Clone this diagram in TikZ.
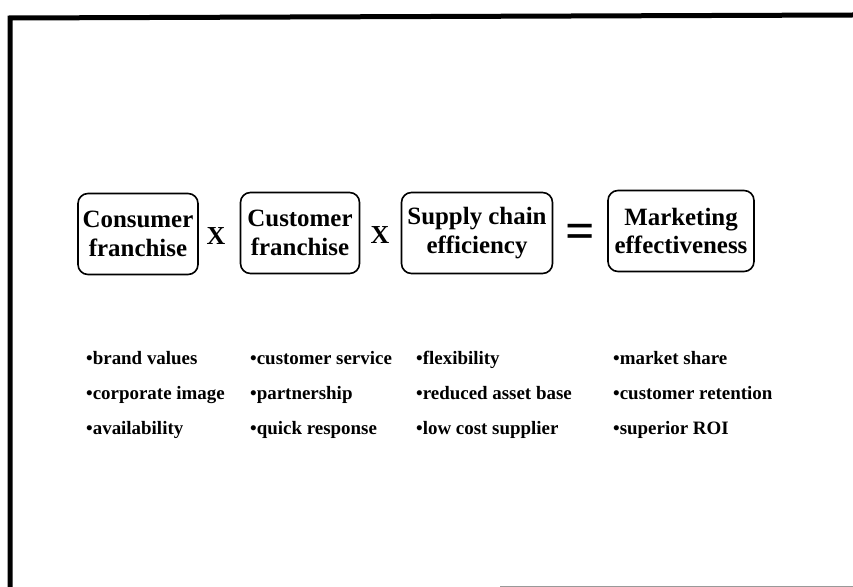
\documentclass[tikz,border=0pt]{standalone}
\usepackage{fontspec}
\setmainfont{Liberation Serif}
\begin{document}
\begin{tikzpicture}[x=1bp,y=-1bp,
    factor/.style={draw,line width=1.6bp,rounded corners=10bp,inner sep=0pt,
      align=center,font=\fontsize{25}{29}\selectfont\bfseries},
    sign/.style={font=\fontsize{26}{28}\selectfont\bfseries},
    item/.style={anchor=base west,inner sep=0pt,font=\fontsize{19}{21}\selectfont\bfseries}]
  % Parameters
  \def\H{81}   % box height
  \def\rowA{364} % baseline of first bullet row
  \def\dy{35}  % bullet row spacing

  \useasboundingbox (0,0) rectangle (853,587);

  % Frame
  \draw[line width=5bp] (10,587) -- (10,18) -- (853,15);
  \draw[black!40,line width=1bp] (500,586) -- (853,586);

  % Factor boxes
  \node[factor,minimum width=120bp,minimum height=\H bp] (consumer)  at (138,234) {Consumer\\franchise};
  \node[factor,minimum width=119bp,minimum height=\H bp] (customer)  at (300,233) {Customer\\franchise};
  \node[factor,minimum width=151bp,minimum height=\H bp] (supply)    at (477,233) {Supply chain\\efficiency};
  \node[factor,minimum width=146bp,minimum height=\H bp] (marketing) at (681,231) {Marketing\\effectiveness};

  % Operators between the boxes
  \node[sign] (times1) at (216,236) {X};
  \node[sign] (times2) at (380,235) {X};
  \node[font=\fontsize{52}{52}\selectfont\bfseries] (equals) at (580,236) {=};

  % Bullet lists under each box
  \foreach \x/\a/\b/\c [count=\i] in {
      86/brand values/corporate image/availability,
      250/customer service/partnership/quick response,
      416/flexibility/reduced asset base/low cost supplier,
      613/market share/customer retention/superior ROI}{
    \node[item] (list\i a) at (\x,\rowA) {•\a};
    \node[item] (list\i b) at (\x,\rowA+\dy) {•\b};
    \node[item] (list\i c) at (\x,\rowA+2*\dy) {•\c};
  }
\end{tikzpicture}
\end{document}
